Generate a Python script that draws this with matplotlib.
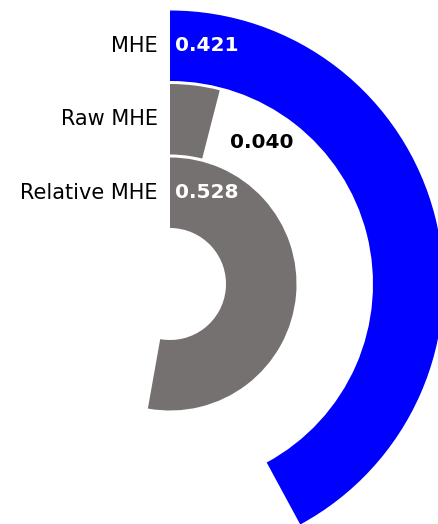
import numpy as np
import matplotlib.pyplot as plt

# Data (outer ring first)
labels = ['MHE', 'Raw MHE', 'Relative MHE']
values = [0.421, 0.040, 0.528]
colors = ['#0000FF', '#767171', '#767171']
label_colors = ['white', 'black', 'white']

W, H = 438, 524
fig = plt.figure(figsize=(W / 100, H / 100), dpi=100)

# polar axes placed so that one data unit of radius = one pixel
cx, cy, R = 170, 284, 280
ax = fig.add_axes([(cx - R) / W, (H - cy - R) / H, 2 * R / W, 2 * R / H],
                  projection='polar')
ax.set_theta_zero_location('N')
ax.set_theta_direction(-1)
ax.set_ylim(0, R)
ax.set_axis_off()

inner, band, gap = 56, 70.5, 3
n = len(values)
for i, (lab, val, col, tcol) in enumerate(zip(labels, values, colors, label_colors)):
    ring = n - 1 - i
    bottom = inner + ring * (band + gap)
    width = val * 2 * np.pi
    ax.bar(0, band, width=width, bottom=bottom, align='edge',
           color=col, edgecolor='none')
    rmid = bottom + band / 2
    # category label left of the start line
    ax.annotate(lab, xy=(0, rmid), xytext=(-12, 0), textcoords='offset pixels',
                ha='right', va='center', fontsize=15, color='black')
    if tcol == 'white':
        ax.annotate(f'{val:.3f}', xy=(0, rmid), xytext=(5, 0),
                    textcoords='offset pixels', ha='left', va='center',
                    fontsize=14.5, fontweight='bold', color=tcol)
    else:
        ax.annotate(f'{val:.3f}', xy=(width, rmid), xytext=(19, -18),
                    textcoords='offset pixels', ha='left', va='center',
                    fontsize=14.5, fontweight='bold', color=tcol)

fig.savefig('out.png', dpi=100)
